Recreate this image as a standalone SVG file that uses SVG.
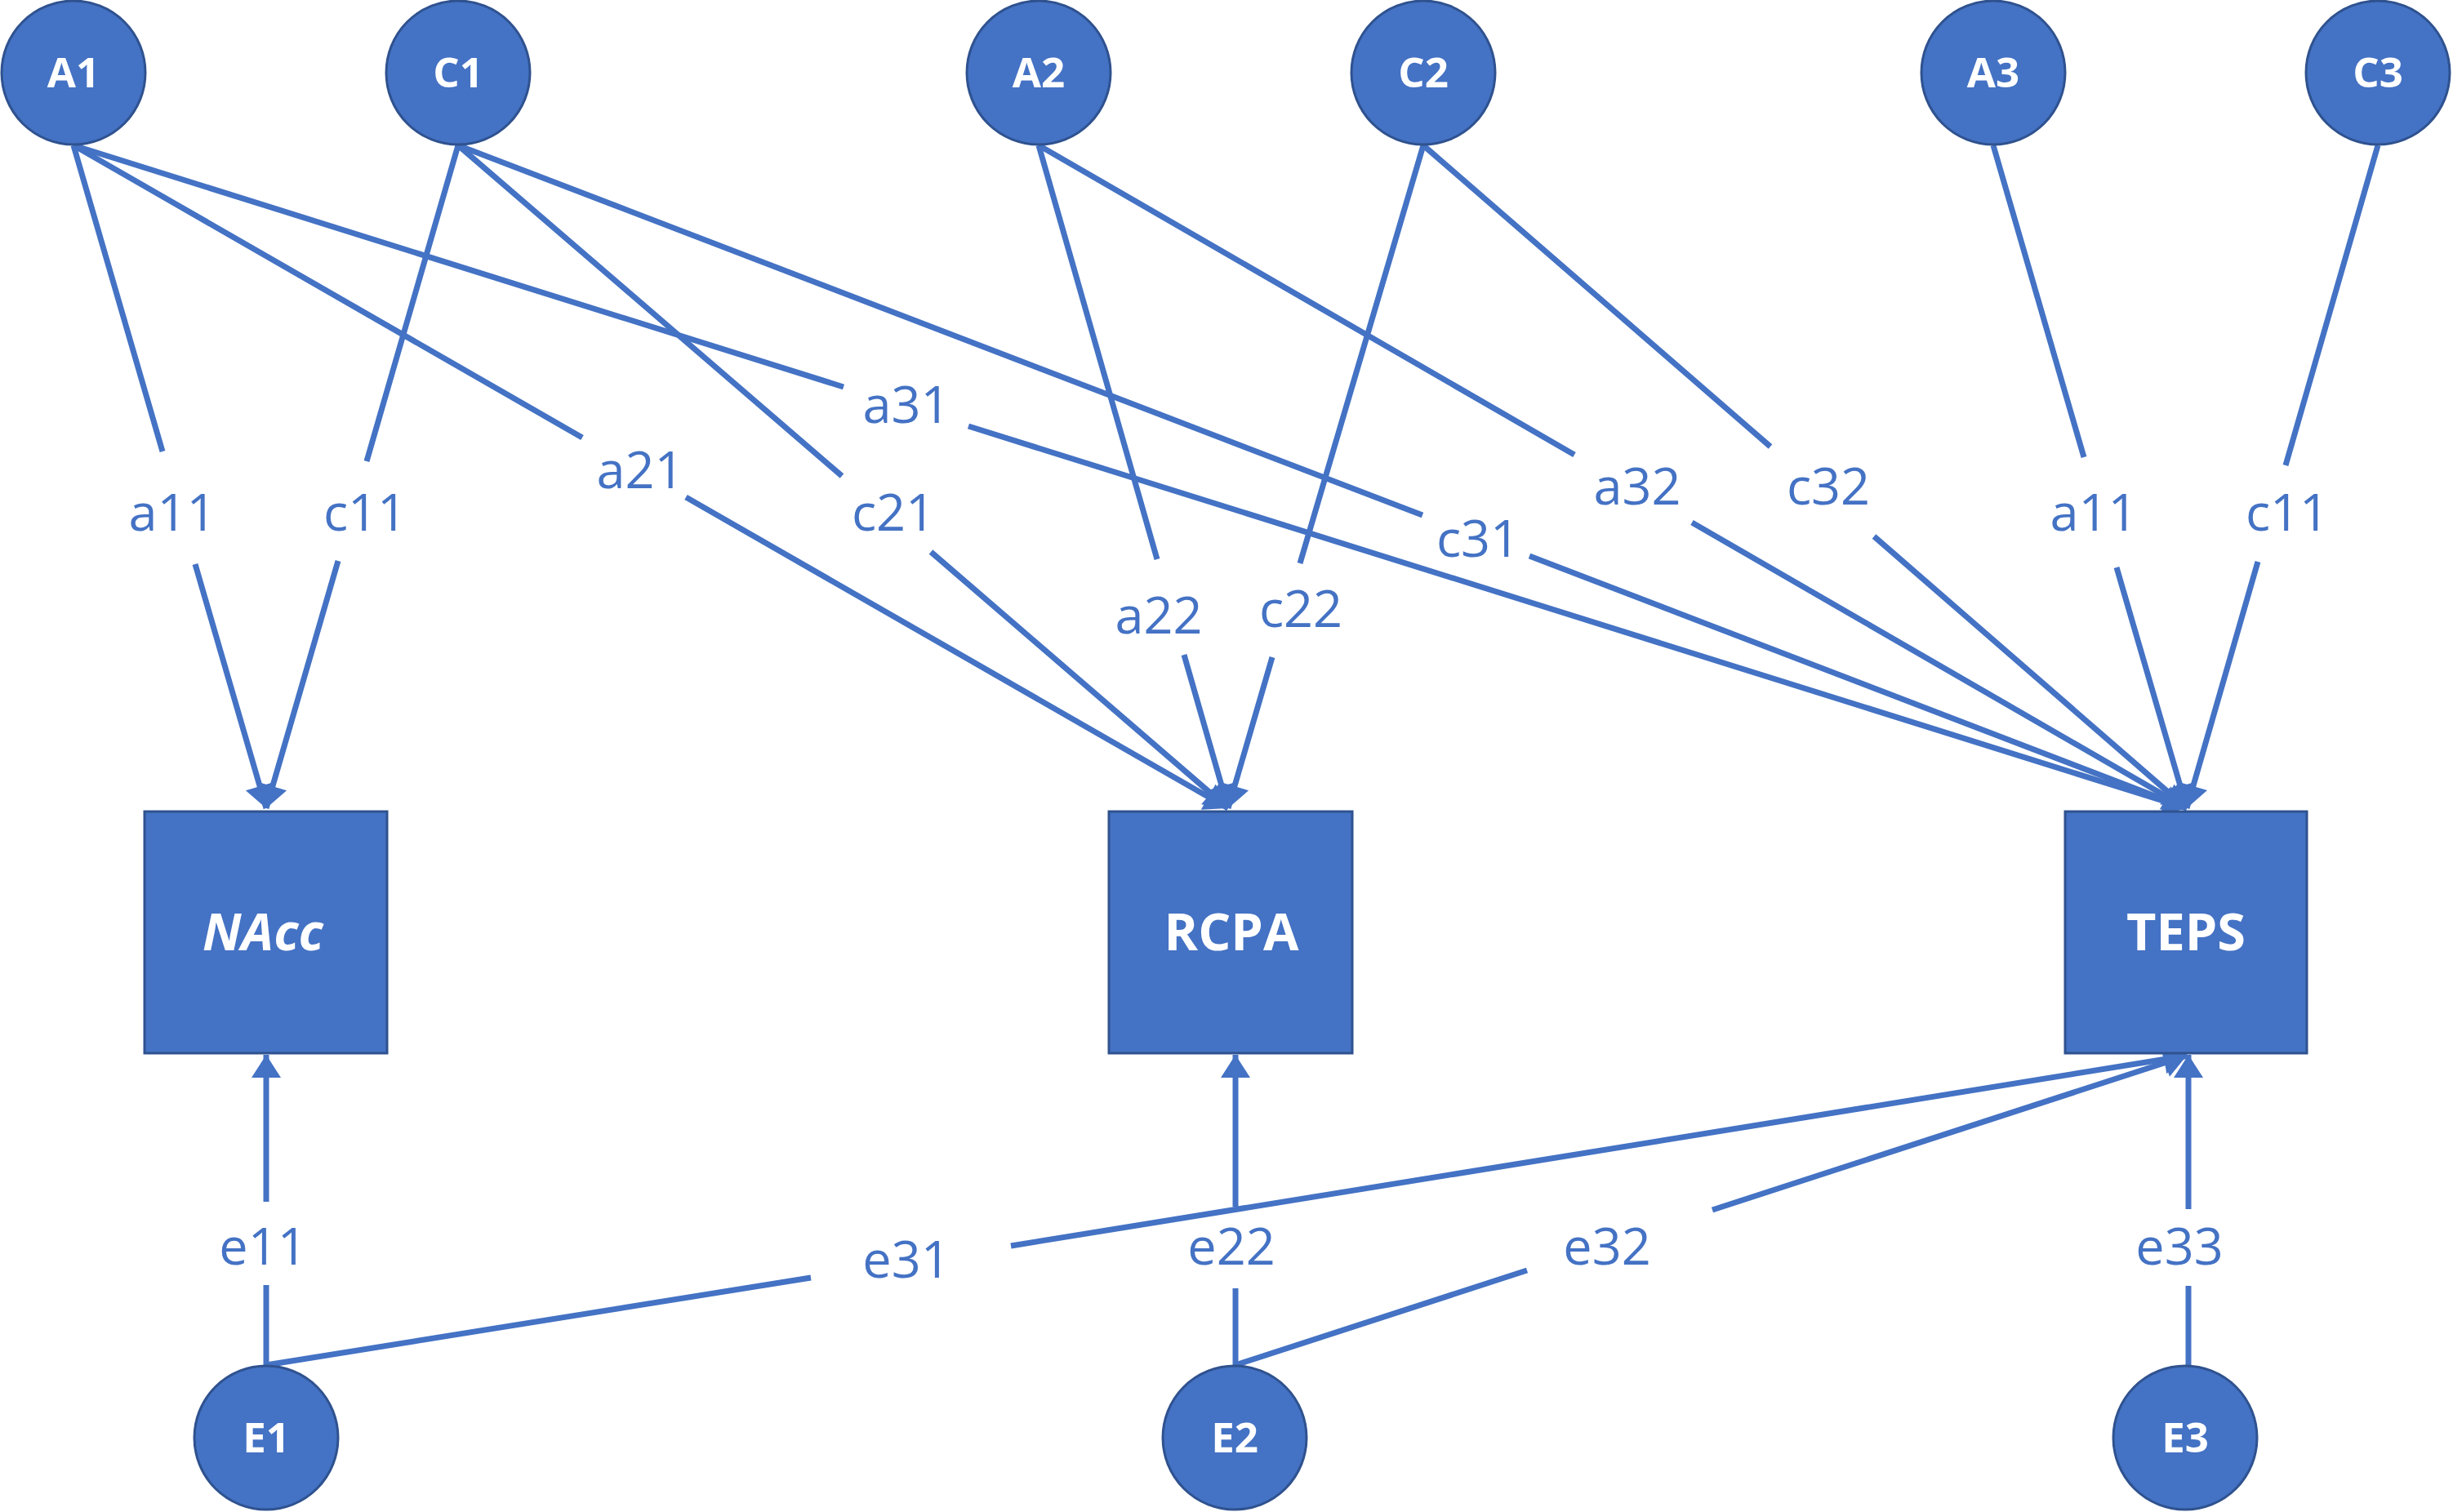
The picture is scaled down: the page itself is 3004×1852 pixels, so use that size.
<svg xmlns="http://www.w3.org/2000/svg" width="3004" height="1852" viewBox="0 0 3004 1852">
<style>
.node{fill:#4472C4;stroke:#2F528F;stroke-width:3}
.nt{font-family:"Open Sans","Noto Sans",sans-serif;font-weight:bold;fill:#FFFFFF;text-anchor:middle}
.ct{font-size:51px}
.bt{font-size:63px}
.ln{stroke:#4472C4;stroke-width:7;fill:none}
.lb{font-family:"Open Sans","Noto Sans",sans-serif;font-size:63px;fill:#4472C4;text-anchor:middle}
</style>
<defs>
<marker id="arr" markerUnits="userSpaceOnUse" markerWidth="40" markerHeight="40" viewBox="-32 -20 40 40" refX="0" refY="0" orient="auto">
<path d="M0,0 L-28,-18 L-28,18 Z" fill="#4472C4"/>
</marker>
</defs>
<rect width="3004" height="1852" fill="#FFFFFF"/>
<g id="connectors">
<!-- A1 -> NAcc -->
<path class="ln" d="M90,178 L199,553"/><path class="ln" d="M239,691 L326,990" marker-end="url(#arr)"/>
<!-- C1 -> NAcc -->
<path class="ln" d="M561,178 L449,565"/><path class="ln" d="M414,687 L326,990" marker-end="url(#arr)"/>
<!-- A1 -> RCPA -->
<path class="ln" d="M90,178 L713,536"/><path class="ln" d="M840,609 L1504,990" marker-end="url(#arr)"/>
<!-- A1 -> TEPS -->
<path class="ln" d="M90,178 L1033,474"/><path class="ln" d="M1186,522 L2678,990" marker-end="url(#arr)"/>
<!-- C1 -> RCPA -->
<path class="ln" d="M561,178 L1031,583"/><path class="ln" d="M1140,676 L1504,990" marker-end="url(#arr)"/>
<!-- C1 -> TEPS -->
<path class="ln" d="M561,178 L1742,631"/><path class="ln" d="M1873,681 L2678,990" marker-end="url(#arr)"/>
<!-- A2 -> RCPA -->
<path class="ln" d="M1272,178 L1417,685"/><path class="ln" d="M1450,802 L1504,990" marker-end="url(#arr)"/>
<!-- C2 -> RCPA -->
<path class="ln" d="M1743,178 L1592,690"/><path class="ln" d="M1558,805 L1504,990" marker-end="url(#arr)"/>
<!-- A2 -> TEPS -->
<path class="ln" d="M1272,178 L1928,557"/><path class="ln" d="M2072,640 L2678,990" marker-end="url(#arr)"/>
<!-- C2 -> TEPS -->
<path class="ln" d="M1743,178 L2168,547"/><path class="ln" d="M2295,657 L2678,990" marker-end="url(#arr)"/>
<!-- A3 -> TEPS -->
<path class="ln" d="M2441,178 L2552,560"/><path class="ln" d="M2592,695 L2678,990" marker-end="url(#arr)"/>
<!-- C3 -> TEPS -->
<path class="ln" d="M2912,178 L2799,570"/><path class="ln" d="M2765,688 L2678,990" marker-end="url(#arr)"/>
<!-- E1 -> NAcc -->
<path class="ln" d="M326,1672 L326,1574"/><path class="ln" d="M326,1472 L326,1292" marker-end="url(#arr)"/>
<!-- E2 -> RCPA -->
<path class="ln" d="M1513,1672 L1513,1578"/><path class="ln" d="M1513,1478 L1513,1292" marker-end="url(#arr)"/>
<!-- E3 -> TEPS -->
<path class="ln" d="M2680,1672 L2680,1575"/><path class="ln" d="M2680,1481 L2680,1292" marker-end="url(#arr)"/>
<!-- E1 -> TEPS -->
<path class="ln" d="M326,1672 L993,1565"/><path class="ln" d="M1238,1526 L2678,1293" marker-end="url(#arr)"/>
<!-- E2 -> TEPS -->
<path class="ln" d="M1513,1672 L1870,1556"/><path class="ln" d="M2097,1482 L2678,1293" marker-end="url(#arr)"/>
</g>
<g id="labels">
<text class="lb" x="211" y="650">a11</text>
<text class="lb" x="447" y="650">c11</text>
<text class="lb" x="784" y="598">a21</text>
<text class="lb" x="1110" y="518">a31</text>
<text class="lb" x="1094" y="650">c21</text>
<text class="lb" x="1810" y="682">c31</text>
<text class="lb" x="1419" y="776">a22</text>
<text class="lb" x="1593" y="768">c22</text>
<text class="lb" x="2005" y="618">a32</text>
<text class="lb" x="2239" y="618">c32</text>
<text class="lb" x="2564" y="650">a11</text>
<text class="lb" x="2801" y="650">c11</text>
<text class="lb" x="322" y="1549">e11</text>
<text class="lb" x="1110" y="1565">e31</text>
<text class="lb" x="1508" y="1549">e22</text>
<text class="lb" x="1968" y="1549">e32</text>
<text class="lb" x="2669" y="1549">e33</text>
</g>
<g id="A1"><circle class="node" cx="90" cy="89" r="88"/><text class="nt ct" x="90" y="107">A1</text></g>
<g id="C1"><circle class="node" cx="561" cy="89" r="88"/><text class="nt ct" x="561" y="107">C1</text></g>
<g id="A2"><circle class="node" cx="1272" cy="89" r="88"/><text class="nt ct" x="1272" y="107">A2</text></g>
<g id="C2"><circle class="node" cx="1743" cy="89" r="88"/><text class="nt ct" x="1743" y="107">C2</text></g>
<g id="A3"><circle class="node" cx="2441" cy="89" r="88"/><text class="nt ct" x="2441" y="107">A3</text></g>
<g id="C3"><circle class="node" cx="2912" cy="89" r="88"/><text class="nt ct" x="2912" y="107">C3</text></g>
<g id="NAcc"><rect class="node" x="177" y="994" width="297" height="296"/><text class="nt bt" x="322" y="1164" font-style="italic">NAcc</text></g>
<g id="RCPA"><rect class="node" x="1358" y="994" width="298" height="296"/><text class="nt bt" x="1508" y="1164">RCPA</text></g>
<g id="TEPS"><rect class="node" x="2529" y="994" width="296" height="296"/><text class="nt bt" x="2677" y="1164">TEPS</text></g>
<g id="E1"><circle class="node" cx="326" cy="1761" r="88"/><text class="nt ct" x="326" y="1779">E1</text></g>
<g id="E2"><circle class="node" cx="1512" cy="1761" r="88"/><text class="nt ct" x="1512" y="1779">E2</text></g>
<g id="E3"><circle class="node" cx="2676" cy="1761" r="88"/><text class="nt ct" x="2676" y="1779">E3</text></g>
</svg>
